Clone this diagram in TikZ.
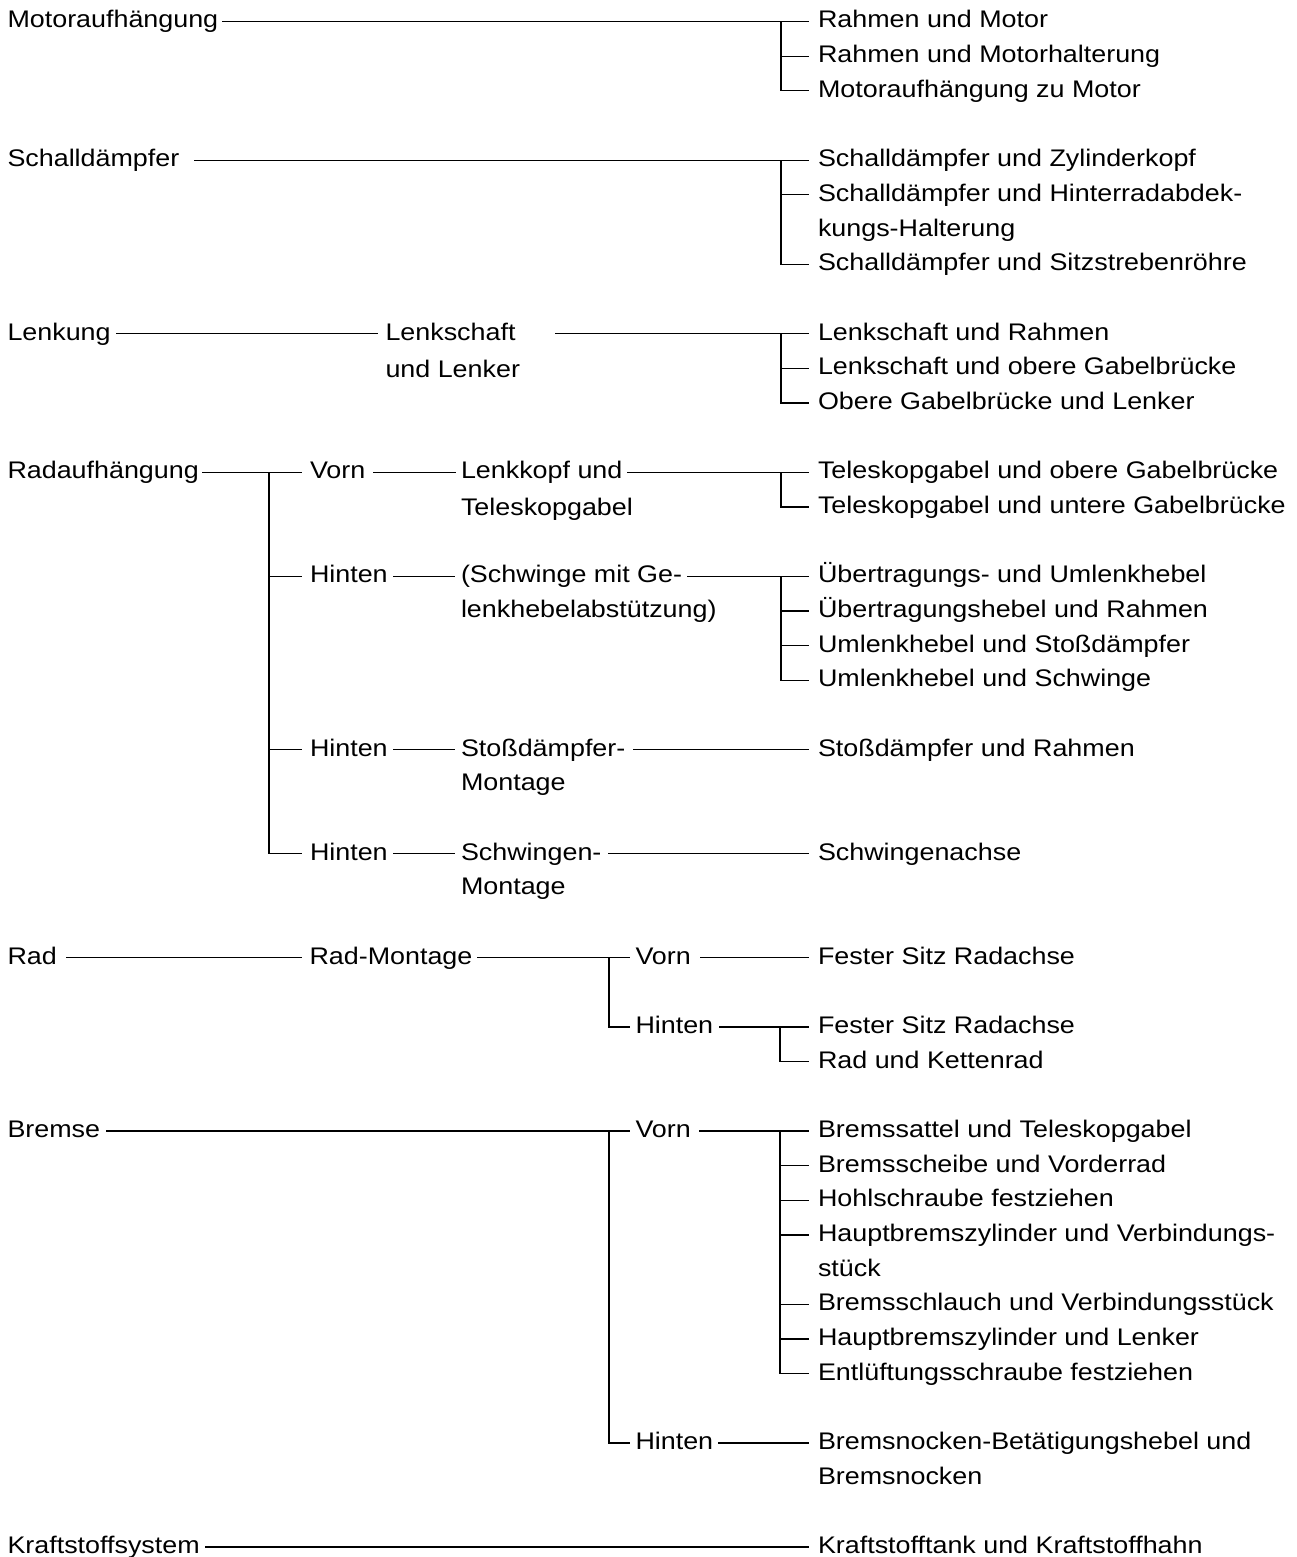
\documentclass[tikz,border=0pt]{standalone}
\usepackage{fontspec}
\setmainfont{Liberation Sans}[FakeStretch=1.12]
\newcommand\R[1]{28+34.67*#1}
\tikzset{
  t/.style={anchor=base west, inner sep=0pt, outer sep=0pt, align=left,
            font=\fontsize{24}{34.67}\selectfont},
  lv/.style={yshift=6.5pt},       % line level of a one-line node
  lv2/.style={yshift=41.17pt},    % first-line level of a two-line node
  conn/.style={line width=1.3pt, line cap=butt}
}
\begin{document}
\begin{tikzpicture}[x=1pt,y=-1pt]
\useasboundingbox (0,0) rectangle (1296,1557);
% column A
\node[t] (ma) at (7.5,\R{0})  {Motoraufhängung};
\node[t] (sd) at (7.5,\R{4})  {Schalldämpfer};
\node[t] (le) at (7.5,\R{9})  {Lenkung};
\node[t] (ra) at (7.5,\R{13}) {Radaufhängung};
\node[t] (rd) at (7.5,\R{27}) {Rad};
\node[t] (br) at (7.5,\R{32}) {Bremse};
\node[t] (ks) at (7.5,\R{44}) {Kraftstoffsystem};
% column B
\node[t] (ls)  at (385.5,\R{10}+3) {Lenkschaft\\[3pt]und Lenker};
\node[t] (rv)  at (310,\R{13}) {Vorn};
\node[t] (rh1) at (310,\R{16}) {Hinten};
\node[t] (rh2) at (310,\R{21}) {Hinten};
\node[t] (rh3) at (310,\R{24}) {Hinten};
\node[t] (rm)  at (309.5,\R{27}) {Rad-Montage};
% column C (two-line nodes are placed by their last line)
\node[t] (lk) at (461,\R{14}+2) {Lenkkopf und\\[2pt]Teleskopgabel};
\node[t] (sw) at (461,\R{17}) {(Schwinge mit Ge-\\lenkhebelabstützung)};
\node[t] (sm) at (461,\R{22}) {Stoßdämpfer-\\Montage};
\node[t] (wm) at (461,\R{25}) {Schwingen-\\Montage};
% column D
\node[t] (dv) at (635.5,\R{27}) {Vorn};
\node[t] (dh) at (635.5,\R{29}) {Hinten};
\node[t] (bv) at (635.5,\R{32}) {Vorn};
\node[t] (bh) at (635.5,\R{41}) {Hinten};
% column E
\node[t] (e0)  at (818,\R{0})  {Rahmen und Motor};
\node[t] (e1)  at (818,\R{1})  {Rahmen und Motorhalterung};
\node[t] (e2)  at (818,\R{2})  {Motoraufhängung zu Motor};
\node[t] (e4)  at (818,\R{4})  {Schalldämpfer und Zylinderkopf};
\node[t] (e5)  at (818,\R{6})  {Schalldämpfer und Hinterradabdek-\\kungs-Halterung};
\node[t] (e7)  at (818,\R{7})  {Schalldämpfer und Sitzstrebenröhre};
\node[t] (e9)  at (818,\R{9})  {Lenkschaft und Rahmen};
\node[t] (e10) at (818,\R{10}) {Lenkschaft und obere Gabelbrücke};
\node[t] (e11) at (818,\R{11}) {Obere Gabelbrücke und Lenker};
\node[t] (e13) at (818,\R{13}) {Teleskopgabel und obere Gabelbrücke};
\node[t] (e14) at (818,\R{14}) {Teleskopgabel und untere Gabelbrücke};
\node[t] (e16) at (818,\R{16}) {Übertragungs- und Umlenkhebel};
\node[t] (e17) at (818,\R{17}) {Übertragungshebel und Rahmen};
\node[t] (e18) at (818,\R{18}) {Umlenkhebel und Stoßdämpfer};
\node[t] (e19) at (818,\R{19}) {Umlenkhebel und Schwinge};
\node[t] (e21) at (818,\R{21}) {Stoßdämpfer und Rahmen};
\node[t] (e24) at (818,\R{24}) {Schwingenachse};
\node[t] (e27) at (818,\R{27}) {Fester Sitz Radachse};
\node[t] (e29) at (818,\R{29}) {Fester Sitz Radachse};
\node[t] (e30) at (818,\R{30}) {Rad und Kettenrad};
\node[t] (e32) at (818,\R{32}) {Bremssattel und Teleskopgabel};
\node[t] (e33) at (818,\R{33}) {Bremsscheibe und Vorderrad};
\node[t] (e34) at (818,\R{34}) {Hohlschraube festziehen};
\node[t] (e35) at (818,\R{36}) {Hauptbremszylinder und Verbindungs-\\stück};
\node[t] (e37) at (818,\R{37}) {Bremsschlauch und Verbindungsstück};
\node[t] (e38) at (818,\R{38}) {Hauptbremszylinder und Lenker};
\node[t] (e39) at (818,\R{39}) {Entlüftungsschraube festziehen};
\node[t] (e41) at (818,\R{42}) {Bremsnocken-Betätigungshebel und\\Bremsnocken};
\node[t] (e44) at (818,\R{44}) {Kraftstofftank und Kraftstoffhahn};
% end points before the right column
\foreach \k in {0,1,2,4,7,9,10,11,13,14,16,17,18,19,21,24,27,29,30,32,33,34,37,38,39,44}
  \coordinate (x\k) at ([lv,xshift=-9pt]e\k.base west);
\foreach \k in {5,35,41}
  \coordinate (x\k) at ([lv2,xshift=-9pt]e\k.base west);
% end points before other columns
\coordinate (ya) at ([lv,xshift=-8pt]rv.base west);
\coordinate (yb) at ([lv,xshift=-8pt]rh1.base west);
\coordinate (yc) at ([lv,xshift=-8pt]rh2.base west);
\coordinate (yd) at ([lv,xshift=-8pt]rh3.base west);
\coordinate (z27) at ([lv,xshift=-5.5pt]dv.base west);
\coordinate (z29) at ([lv,xshift=-5.5pt]dh.base west);
\coordinate (z32) at ([lv,xshift=-5.5pt]bv.base west);
\coordinate (z41) at ([lv,xshift=-5.5pt]bh.base west);
% junctions
\coordinate (j0)  at ([xshift=-28pt]x0);
\coordinate (j4)  at ([xshift=-28pt]x4);
\coordinate (j9)  at ([xshift=-28pt]x9);
\coordinate (j13) at ([xshift=-28pt]x13);
\coordinate (j16) at ([xshift=-28pt]x16);
\coordinate (j29) at ([xshift=-29pt]x29);
\coordinate (j32) at ([xshift=-29pt]x32);
\coordinate (jr)  at ([xshift=-33pt]ya);
\coordinate (jm)  at ([xshift=-21pt]z27);
\coordinate (jb)  at ([xshift=-21pt]z32);

\begin{scope}[conn]
% Motoraufhaengung
\draw ([lv,xshift=214.5pt]ma.base west) -- (x0);
\draw (j0) |- (x2);
\draw (j0 |- x1) -- (x1);
% Schalldaempfer
\draw ([lv,xshift=186.5pt]sd.base west) -- (x4);
\draw (j4) |- (x7);
\draw (j4 |- x5) -- (x5);
% Lenkung
\draw ([lv,xshift=108.5pt]le.base west) -- ([yshift=44.17pt,xshift=-7.5pt]ls.base west);
\draw ([yshift=44.17pt,xshift=169.5pt]ls.base west) -- (x9);
\draw (j9) |- (x11);
\draw (j9 |- x10) -- (x10);
% Radaufhaengung
\draw ([lv,xshift=194.5pt]ra.base west) -- (ya);
\draw (jr) |- (yd);
\draw (jr |- yb) -- (yb);
\draw (jr |- yc) -- (yc);
\draw ([lv,xshift=63pt]rv.base west) -- ([yshift=43.17pt,xshift=-5pt]lk.base west);
\draw ([yshift=43.17pt,xshift=166pt]lk.base west) -- (x13);
\draw (j13) |- (x14);
\draw ([lv,xshift=83pt]rh1.base west) -- ([lv2,xshift=-6pt]sw.base west);
\draw ([lv2,xshift=226pt]sw.base west) -- (x16);
\draw (j16) |- (x19);
\draw (j16 |- x17) -- (x17);
\draw (j16 |- x18) -- (x18);
\draw ([lv,xshift=83pt]rh2.base west) -- ([lv2,xshift=-6pt]sm.base west);
\draw ([lv2,xshift=172pt]sm.base west) -- (x21);
\draw ([lv,xshift=83pt]rh3.base west) -- ([lv2,xshift=-6pt]wm.base west);
\draw ([lv2,xshift=147pt]wm.base west) -- (x24);
% Rad
\draw ([lv,xshift=58.5pt]rd.base west) -- ([lv,xshift=-7.5pt]rm.base west);
\draw ([lv,xshift=167.5pt]rm.base west) -- (z27);
\draw (jm) |- (z29);
\draw ([lv,xshift=64.5pt]dv.base west) -- (x27);
\draw ([lv,xshift=83.5pt]dh.base west) -- (x29);
\draw (j29) |- (x30);
% Bremse
\draw ([lv,xshift=98.5pt]br.base west) -- (z32);
\draw (jb) |- (z41);
\draw ([lv,xshift=63.5pt]bv.base west) -- (x32);
\draw (j32) |- (x39);
\foreach \k in {33,34,35,37,38} \draw (j32 |- x\k) -- (x\k);
\draw ([lv,xshift=82.5pt]bh.base west) -- (x41);
% Kraftstoffsystem
\draw ([lv,xshift=197.5pt]ks.base west) -- (x44);
\end{scope}
\end{tikzpicture}
\end{document}
